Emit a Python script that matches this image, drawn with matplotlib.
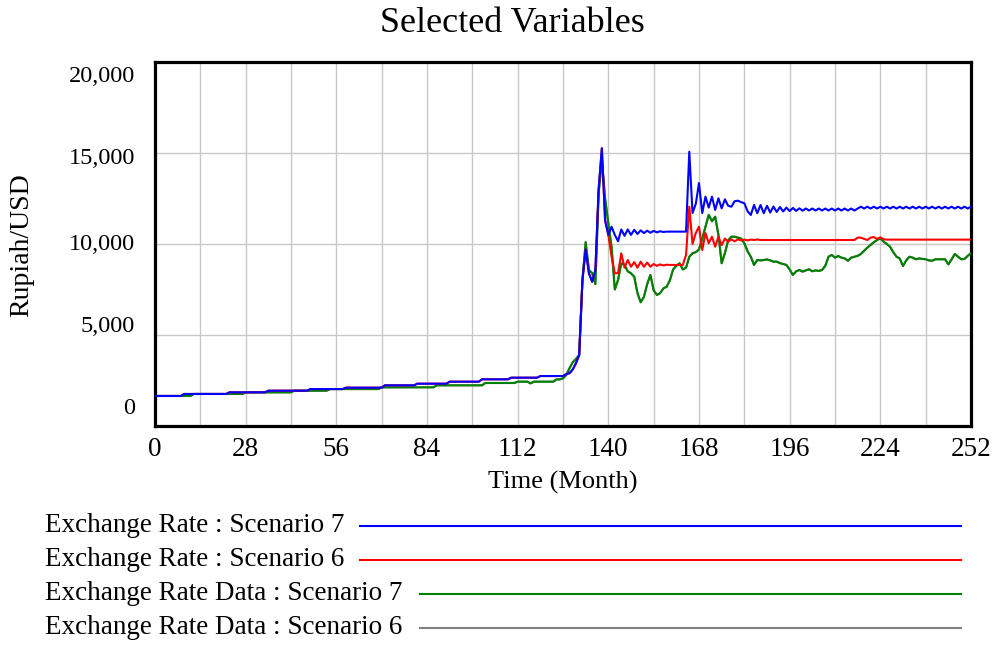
import numpy as np
import matplotlib
matplotlib.use("Agg")
import matplotlib.pyplot as plt
from matplotlib.lines import Line2D
from matplotlib.transforms import ScaledTranslation

plt.rcParams['font.family'] = ['Liberation Serif', 'DejaVu Serif']

# ---------------- data ----------------
months = np.arange(0, 253)

# simulated exchange rate, identical for both scenarios up to month 140
sim_shared = [
    1650, 1650, 1650, 1650, 1650, 1650, 1650, 1650, 1650,
    1760, 1760, 1760, 1760, 1760, 1760, 1760, 1760, 1760, 1760, 1760, 1760, 1760, 1760,
    1850, 1850, 1850, 1850, 1850, 1850, 1850, 1850, 1850, 1850, 1850, 1850,
    1940, 1940, 1940, 1940, 1940, 1940, 1940, 1940, 1940, 1940, 1940, 1940, 1940,
    2030, 2030, 2030, 2030, 2030, 2030, 2030, 2030, 2030, 2030, 2030,
    2105, 2105, 2105, 2105, 2105, 2105, 2105, 2105, 2105, 2105, 2105, 2105,
    2235, 2235, 2235, 2235, 2235, 2235, 2235, 2235, 2235, 2235,
    2325, 2325, 2325, 2325, 2325, 2325, 2325, 2325, 2325, 2325,
    2435, 2435, 2435, 2435, 2435, 2435, 2435, 2435, 2435, 2435,
    2565, 2565, 2565, 2565, 2565, 2565, 2565, 2565, 2565,
    2655, 2655, 2655, 2655, 2655, 2655, 2655, 2655, 2655,
    2745, 2745, 2745, 2745, 2745, 2745, 2745, 2745,
    2850, 2900, 3100, 3450, 3900, 8020, 9700, 8390, 7930, 8570, 13000, 15260, 11300, 10500,
]

# Scenario 7 simulation, months 141-252
sim_s7_tail = [
    10950, 10500, 10150, 10800, 10450, 10800, 10500, 10780, 10550, 10750,
    10600, 10730, 10620, 10720, 10640, 10700, 10660, 10680, 10680, 10680,
    10680, 10680, 10680, 10680, 15070, 11700, 12200, 13350, 11700, 12600,
    12000, 12600, 11870, 12510, 11960, 12455, 12100, 12050, 12350, 12380,
    12300, 12240, 11800, 11595, 12145, 11690, 12145, 11690, 12100, 11730,
    12060, 11760, 12030, 11790, 12000, 11810, 11980, 11820, 11960, 11830,
    11950, 11840, 11950, 11840, 11950, 11840, 11950, 11840, 11950, 11840,
    11950, 11840, 11950, 11840, 11950, 11840, 11950, 12050, 11950, 12050,
    11950, 12050, 11950, 12050, 11950, 12050, 11950, 12050, 11950, 12050,
    11950, 12050, 11950, 12050, 11950, 12050, 11950, 12050, 11950, 12050,
    11950, 12050, 11950, 12050, 11950, 12050, 11950, 12050, 11950, 12050,
    11950, 12050,
]

# Scenario 6 simulation, months 141-252
sim_s6_tail = [
    9300, 8390, 8400, 9490, 8700, 9120, 8750, 9000, 8700, 9030,
    8750, 8980, 8750, 8900, 8800, 8880, 8820, 8860, 8850, 8850,
    8850, 8850, 8850, 9400, 12050, 10000, 10600, 10950, 9670, 10600,
    10040, 10400, 9850, 10400, 9940, 10300, 10130, 10250, 10150, 10250,
    10200, 10240, 10200, 10240, 10220, 10250, 10220, 10220, 10220, 10220,
    10220, 10220, 10220, 10220, 10220, 10220, 10220, 10220, 10220, 10220,
    10220, 10220, 10220, 10220, 10220, 10220, 10220, 10220, 10220, 10220,
    10220, 10220, 10220, 10220, 10220, 10220, 10350, 10350, 10280, 10220,
    10350, 10380, 10280, 10370, 10260, 10240, 10240, 10240, 10240, 10240,
    10240, 10240, 10240, 10240, 10240, 10240, 10240, 10240, 10240, 10240,
    10240, 10240, 10240, 10240, 10240, 10240, 10240, 10240, 10240, 10240,
    10240, 10240,
]

# historical exchange rate data (same in both scenarios), months 0-252
data_rate = [
    1650, 1650, 1650, 1650, 1650, 1650, 1650, 1650, 1650, 1650, 1650, 1650,
    1760, 1760, 1760, 1760, 1760, 1760, 1760, 1760, 1760, 1760, 1760, 1760, 1760, 1760, 1760, 1760,
    1850, 1850, 1850, 1850, 1850, 1850, 1850, 1850, 1850, 1850, 1850, 1850, 1850, 1850, 1850,
    1940, 1940, 1940, 1940, 1940, 1940, 1940, 1940, 1940, 1940, 1940,
    2030, 2030, 2030, 2030, 2030, 2030, 2030, 2030, 2030, 2030, 2030, 2030, 2030, 2030, 2030, 2030,
    2125, 2125, 2125, 2125, 2125, 2125, 2125, 2125, 2125, 2125, 2125, 2125, 2125, 2125, 2125, 2125, 2125,
    2235, 2235, 2235, 2235, 2235, 2235, 2235, 2235, 2235, 2235, 2235, 2235, 2235, 2235, 2235,
    2363, 2363, 2363, 2363, 2363, 2363, 2363, 2363, 2363, 2363,
    2436, 2436, 2436, 2436,
    2340,
    2436, 2436, 2436, 2436, 2436, 2436, 2436,
    2560, 2560, 2620, 2800, 3170, 3500, 3680, 3900, 8000, 10100,
    8570, 8400, 7800, 12790, 14600, 12500, 11140, 9850, 7500, 8020,
    8940, 8850, 8500, 8390, 8200, 7300, 6800, 7100, 7800, 8300,
    7450, 7200, 7300, 7560, 7650, 8000, 8600, 8800, 8940, 8600,
    8700, 9300, 9490, 9550, 9700, 10300, 10950, 11600, 11250, 11500,
    10500, 8940, 9500, 10200, 10400, 10400, 10350, 10300, 10040, 9600,
    9300, 8850, 9120, 9100, 9120, 9150, 9100, 9030, 9030, 8950,
    8900, 8850, 8600, 8300, 8500, 8570, 8480, 8550, 8610, 8500,
    8550, 8520, 8570, 8800, 9300, 9400, 9250, 9340, 9250, 9210,
    9080, 9250, 9300, 9350, 9450, 9630, 9800, 9950, 10100, 10220,
    10310, 10130, 10000, 9850, 9550, 9300, 9200, 8790, 9100, 9300,
    9250, 9160, 9210, 9180, 9160, 9100, 9080, 9160, 9160, 9160,
    9160, 8880, 9150, 9450, 9300, 9160, 9180, 9350, 9490,
]

series_labels = [
    "Exchange Rate : Scenario 7",
    "Exchange Rate : Scenario 6",
    "Exchange Rate Data : Scenario 7",
    "Exchange Rate Data : Scenario 6",
]
series_colors = ["#0000ff", "#ff0000", "#008000", "#808080"]

x_ticks = [0, 28, 56, 84, 112, 140, 168, 196, 224, 252]
y_ticks = [0, 5000, 10000, 15000, 20000]
y_tick_labels = ["0", "5,000", "10,000", "15,000", "20,000"]

assert len(sim_shared) == 141
assert len(sim_s7_tail) == 112 and len(sim_s6_tail) == 112
assert len(data_rate) == 253

series_values = [
    np.array(sim_shared + sim_s7_tail),
    np.array(sim_shared + sim_s6_tail),
    np.array(data_rate),
    np.array(data_rate),
]

# ---------------- figure ----------------
W, H = 997, 645
fig = plt.figure(figsize=(W / 100, H / 100), dpi=100)
ax = fig.add_axes([155 / W, 1 - 426 / H, (971 - 155) / W, (426 - 62) / H])

zorders = [5, 4, 3, 2]
for vals, col, z in zip(series_values, series_colors, zorders):
    ax.plot(months, vals, color=col, lw=1.5, zorder=z)

ax.set_xlim(0, 252)
ax.set_ylim(0, 20000)
ax.set_xticks(x_ticks)
ax.set_xticks(np.arange(0, 253, 14), minor=True)
ax.set_yticks(y_ticks)
ax.set_yticklabels([])
ax.xaxis.grid(True, which='both', color='#c8c8c8', lw=1.0)
ax.yaxis.grid(True, which='major', color='#c8c8c8', lw=1.0)
ax.set_axisbelow(True)
ax.tick_params(which='both', length=0)
ax.tick_params(axis='x', labelsize=19.5, pad=8)
for s in ax.spines.values():
    s.set_linewidth(2.3)
    s.set_color('black')

# y tick labels (Vensim-style spacing: labels drift from their gridlines)
label_offsets_px = [17, 9, 0, -6, -15]
for val, lab, off in zip(y_ticks, y_tick_labels, label_offsets_px):
    tr = ax.get_yaxis_transform() + ScaledTranslation(-20 / 100, off / 100, fig.dpi_scale_trans)
    ax.text(0, val, lab, transform=tr, ha='right', va='center', fontsize=17.5, clip_on=False)

ax.set_xlabel("Time (Month)", fontsize=19, labelpad=6)
fig.text(22 / W, 1 - 245 / H, "Rupiah/USD", rotation=90, ha='center', va='center', fontsize=20)
fig.text(512 / W, 1 - 23 / H, "Selected Variables", ha='center', va='center', fontsize=26)

# legend
leg_y = [526, 560, 594, 628]
leg_x0 = [360, 360, 420, 420]
for lab, col, yy, x0 in zip(series_labels, series_colors, leg_y, leg_x0):
    fig.text(45 / W, 1 - yy / H, lab, ha='left', va='center', fontsize=19.5)
    fig.add_artist(Line2D([x0 / W, 961 / W], [1 - yy / H, 1 - yy / H], color=col, lw=1.5))

fig.savefig("out.png", dpi=100)
